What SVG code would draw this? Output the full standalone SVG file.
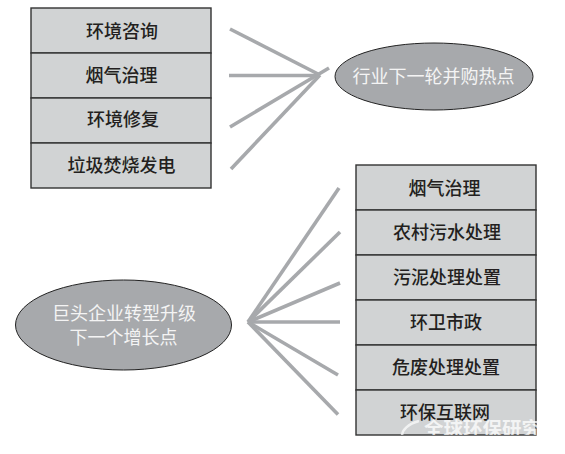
<svg xmlns="http://www.w3.org/2000/svg" width="565" height="454" viewBox="0 0 565 454">
<style>
.b{fill:#d1d3d4;stroke:#333;stroke-width:1.4}
.e{fill:#a7a9ac;stroke:#222;stroke-width:1}
.c line{stroke:#a7a9ac;stroke-width:3.6}
text{font-family:"Noto Sans CJK SC","Noto Sans",sans-serif;font-size:18px;text-anchor:middle}
.d{fill:#231f20;font-weight:500}.w{fill:#f4f4f4}
.m{fill:#fff;fill-opacity:.75;font-size:19.500px;text-anchor:start;font-weight:700}
</style>
<defs><clipPath id="k"><rect x="356" y="390" width="181" height="45"/></clipPath></defs>
<rect width="565" height="454" fill="#fff"/>
<g id="connectors" class="c">
<line x1="230" y1="29" x2="320" y2="75"/>
<line x1="229" y1="75.500" x2="320" y2="75.500"/>
<line x1="230" y1="127" x2="329" y2="68"/>
<line x1="231" y1="169" x2="320" y2="75"/>
<line x1="339" y1="188" x2="248" y2="322"/>
<line x1="340" y1="232" x2="248" y2="322"/>
<line x1="340" y1="283" x2="248" y2="322"/>
<line x1="340" y1="322" x2="248" y2="322"/>
<line x1="338" y1="375" x2="248" y2="322"/>
<line x1="338" y1="414.500" x2="248" y2="322"/>
</g>
<g id="n1"><rect class="b" x="31" y="8" width="180" height="45"/><text class="d" x="122" y="38">环境咨询</text></g>
<g id="n2"><rect class="b" x="31" y="53" width="180" height="45"/><text class="d" x="121.500" y="82">烟气治理</text></g>
<g id="n3"><rect class="b" x="31" y="98" width="180" height="45"/><text class="d" x="123" y="126">环境修复</text></g>
<g id="n4"><rect class="b" x="31" y="143" width="180" height="45"/><text class="d" x="121.500" y="172">垃圾焚烧发电</text></g>
<g id="e1"><ellipse class="e" cx="434" cy="76.500" rx="99" ry="33.500"/><text class="w" x="433.500" y="83">行业下一轮并购热点</text></g>
<g id="e2"><ellipse class="e" cx="123.500" cy="325" rx="108" ry="45"/><text class="w" x="124" y="320">巨头企业转型升级</text><text class="w" x="123.500" y="344">下一个增长点</text></g>
<g id="r1"><rect class="b" x="356" y="165" width="180" height="45"/><text class="d" x="444.500" y="195">烟气治理</text></g>
<g id="r2"><rect class="b" x="356" y="210" width="180" height="45"/><text class="d" x="447" y="239">农村污水处理</text></g>
<g id="r3"><rect class="b" x="356" y="255" width="180" height="45"/><text class="d" x="447" y="284">污泥处理处置</text></g>
<g id="r4"><rect class="b" x="356" y="300" width="180" height="45"/><text class="d" x="446" y="329">环卫市政</text></g>
<g id="r5"><rect class="b" x="356" y="345" width="180" height="45"/><text class="d" x="446" y="374">危废处理处置</text></g>
<g id="r6"><rect class="b" x="356" y="390" width="180" height="45"/><text class="d" x="445" y="419">环保互联网</text></g>
<g id="watermark" clip-path="url(#k)"><path d="M419 421C408 424 402 430 402 436" fill="none" stroke="#fff" stroke-opacity=".7" stroke-width="2.500"/><text class="m" x="424" y="436">全球环保研究</text></g>
</svg>
